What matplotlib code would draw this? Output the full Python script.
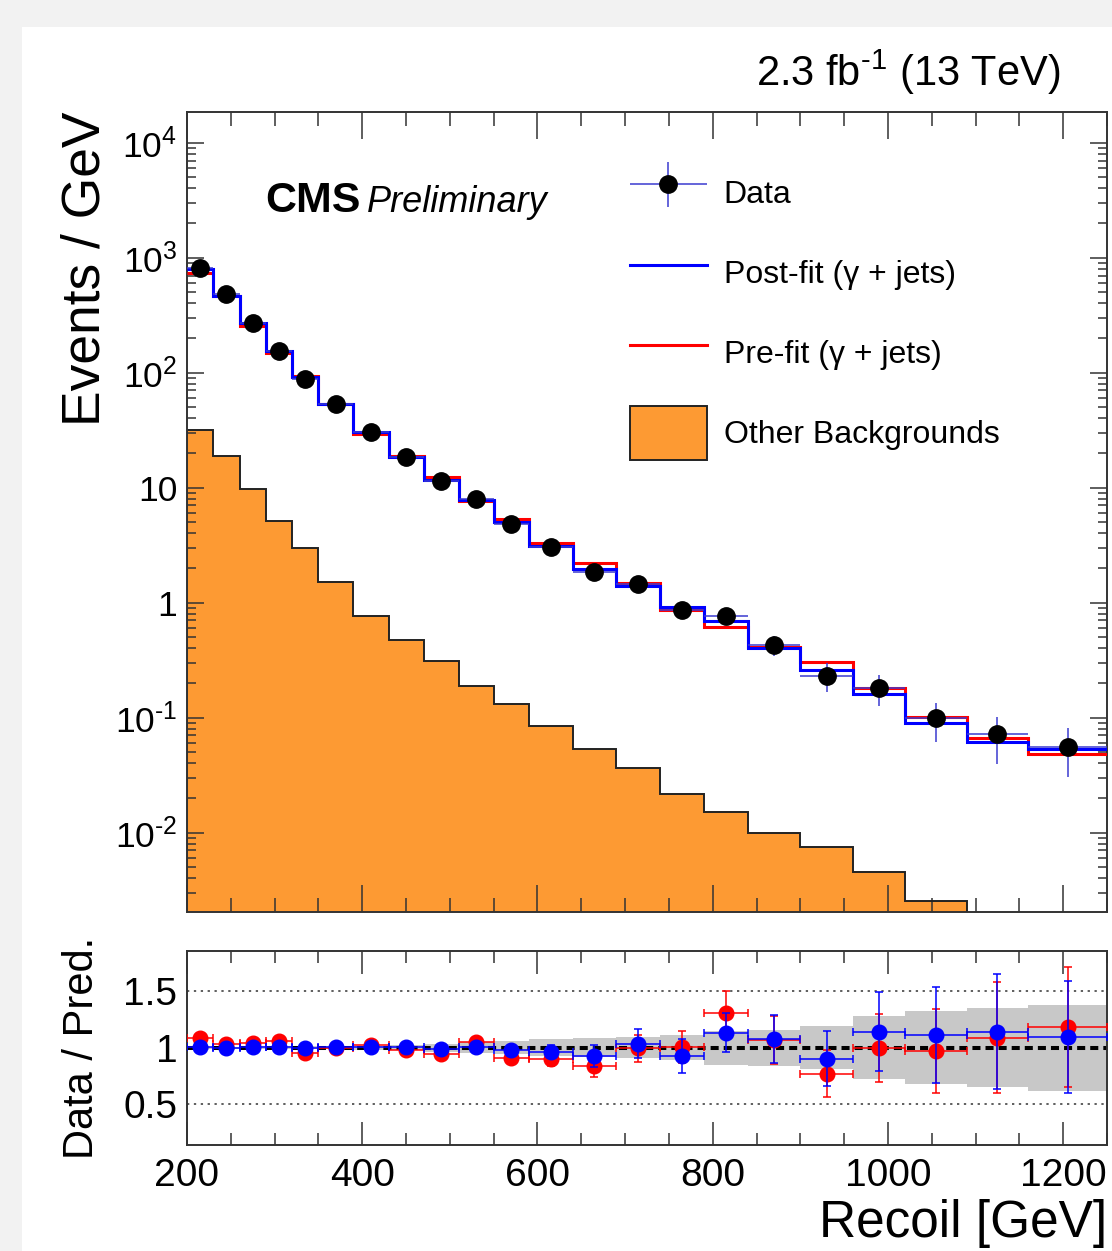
import numpy as np
import matplotlib
matplotlib.use("Agg")
import matplotlib.pyplot as plt
from matplotlib.patches import Patch, Rectangle
from matplotlib.lines import Line2D
from matplotlib.ticker import MultipleLocator, LogLocator, FuncFormatter, NullFormatter
from matplotlib.legend_handler import HandlerErrorbar

plt.rcParams["font.family"] = ["Liberation Sans", "DejaVu Sans"]
plt.rcParams["mathtext.fontset"] = "custom"
plt.rcParams["mathtext.rm"] = "Liberation Sans"
plt.rcParams["mathtext.it"] = "Liberation Sans:italic"
plt.rcParams["mathtext.bf"] = "Liberation Sans:bold"

# recoil bins [GeV]
edges = np.array([200, 230, 260, 290, 320, 350, 390, 430, 470, 510, 550, 590,
                  640, 690, 740, 790, 840, 900, 960, 1020, 1090, 1160, 1250])

# events / GeV
data = np.array([809, 481, 269, 155, 87.6, 53.1, 30.3, 18.4, 11.5, 7.93, 4.83, 3.07,
                 1.86, 1.45, 0.859, 0.77, 0.428, 0.232, 0.182, 0.0988, 0.0718, 0.055])
data_dn = np.array([5, 4, 3, 2.2, 1.4, 0.9, 0.6, 0.4, 0.3, 0.22, 0.16, 0.11,
                    0.14, 0.17, 0.13, 0.10, 0.085, 0.064, 0.056, 0.037, 0.0325, 0.0247])
data_up = np.array([5, 4, 3, 2.2, 1.4, 0.9, 0.6, 0.4, 0.3, 0.22, 0.16, 0.11,
                    0.14, 0.17, 0.13, 0.10, 0.085, 0.065, 0.053, 0.036, 0.030, 0.026])
postfit = np.array([793, 464, 269, 155, 91, 53.1, 30.3, 18.4, 11.7, 7.82, 5.06, 3.13,
                    1.95, 1.40, 0.912, 0.697, 0.401, 0.26, 0.161, 0.0905, 0.0618, 0.0531])
prefit = np.array([741, 462, 255, 147, 93, 53, 29.5, 18.8, 12.3, 7.6, 5.31, 3.32,
                   2.2, 1.47, 0.864, 0.611, 0.41, 0.303, 0.181, 0.1007, 0.0662, 0.0483])
other_bkg = np.array([31.8, 18.9, 9.7, 5.16, 2.97, 1.51, 0.766, 0.474, 0.311, 0.190, 0.132,
                      0.0847, 0.0537, 0.0362, 0.0216, 0.0150, 0.00989, 0.00746, 0.00457,
                      0.00255, 0, 0])  # last two bins empty

# ratio panel
ratio_post = np.array([1.006, 1.0, 1.006, 1.006, 0.994, 1.006, 1.009, 1.006, 0.985, 1.009, 0.976,
                       0.965, 0.926, 1.035, 0.926, 1.132, 1.079, 0.903, 1.141, 1.112, 1.141, 1.094])
ratio_post_err = np.array([0.01, 0.01, 0.012, 0.014, 0.017, 0.02, 0.025, 0.03, 0.035, 0.04, 0.05,
                           0.06, 0.10, 0.13, 0.15, 0.17, 0.21, 0.24, 0.35, 0.42, 0.51, 0.49])
ratio_pre = np.array([1.088, 1.03, 1.044, 1.059, 0.956, 1.0, 1.024, 0.976, 0.941, 1.053, 0.912,
                      0.897, 0.838, 0.994, 1.006, 1.309, 1.07, 0.771, 0.994, 0.971, 1.088, 1.182])
ratio_pre_err = np.array([0.01, 0.01, 0.012, 0.015, 0.017, 0.02, 0.025, 0.03, 0.035, 0.045, 0.05,
                          0.06, 0.10, 0.12, 0.14, 0.19, 0.21, 0.21, 0.30, 0.37, 0.49, 0.53])
band = np.array([0.01, 0.01, 0.012, 0.012, 0.015, 0.015, 0.018, 0.02, 0.035, 0.05, 0.06,
                 0.078, 0.085, 0.09, 0.11, 0.15, 0.16, 0.19, 0.28, 0.32, 0.35, 0.38])

centers = 0.5 * (edges[1:] + edges[:-1])
halfw = 0.5 * np.diff(edges)

W, H = 1112, 1251
fig = plt.figure(figsize=(W / 100, H / 100), dpi=100, facecolor="#f2f2f2")
fig.add_artist(Rectangle((22 / W, 0), 1, 1 - 27 / H, transform=fig.transFigure,
                         facecolor="white", edgecolor="none", zorder=-10))

spine_col = "#333333"
hy = "\u2010"  # short hyphen for exponents, ROOT style

# ---- top panel
ax1 = fig.add_axes([187 / W, 1 - 912 / H, 920 / W, 800 / H])
ax1.set_yscale("log")
ax1.set_xlim(200, 1250)
ax1.set_ylim(2.04e-3, 1.85e4)

nz = other_bkg > 0
e_o = edges[:nz.sum() + 1]
ax1.stairs(other_bkg[nz], e_o, baseline=1e-6, fill=True, color="#fd9a33", zorder=1)
ax1.stairs(other_bkg[nz], e_o, baseline=1e-6, color="#222222", lw=1.4, zorder=2)
ax1.stairs(prefit, edges, baseline=None, color="red", lw=2.2, zorder=3)
ax1.stairs(postfit, edges, baseline=None, color="blue", lw=2.2, zorder=4)
hdata = ax1.errorbar(centers, data, xerr=halfw, yerr=[data_dn, data_up], fmt="o", color="black",
                     ms=12.5, ecolor="#3a3ad0", elinewidth=1.1, capsize=0, zorder=5)

ax1.xaxis.set_major_locator(MultipleLocator(200))
ax1.xaxis.set_minor_locator(MultipleLocator(50))
ax1.yaxis.set_major_locator(LogLocator(base=10, numticks=20))
ax1.yaxis.set_minor_locator(LogLocator(base=10, subs=np.arange(2, 10), numticks=20))
ax1.yaxis.set_minor_formatter(NullFormatter())


def log_label(v, pos):
    e = int(round(np.log10(v)))
    if e == 0:
        return "1"
    if e == 1:
        return "10"
    if e < 0:
        return r"$10^{%s%d}$" % (hy, -e)
    return r"$10^{%d}$" % e


ax1.yaxis.set_major_formatter(FuncFormatter(log_label))
ax1.tick_params(which="both", direction="in", top=True, right=True, labelbottom=False,
                color=spine_col, width=1.1)
ax1.tick_params(axis="x", which="major", length=19.4)
ax1.tick_params(axis="x", which="minor", length=10)
ax1.tick_params(axis="y", which="major", length=12, labelsize=25.5, pad=7)
ax1.tick_params(axis="y", which="minor", length=6.5)
for s in ax1.spines.values():
    s.set_color(spine_col)
    s.set_linewidth(1.4)

ax1.set_ylabel("Events / GeV", fontsize=38.4, loc="top")
ax1.yaxis.set_label_coords(-0.083, 1.0)

ax1.text(0.0848, 0.8754, "CMS", fontsize=31, fontweight="bold", va="baseline",
         transform=ax1.transAxes)
ax1.text(0.1954, 0.8754, "Preliminary", fontsize=26, style="italic", va="baseline",
         transform=ax1.transAxes)

handles = [hdata,
           Line2D([], [], color="blue", lw=2.2),
           Line2D([], [], color="red", lw=2.2),
           Patch(facecolor="#fd9a33", edgecolor="#222222", lw=1.4)]
labels = ["Data", "Post-fit (\u03b3 + jets)", "Pre-fit (\u03b3 + jets)", "Other Backgrounds"]
ax1.legend(handles, labels, loc="upper left", bbox_to_anchor=(0.4815, 0.9325), frameon=False,
           fontsize=23, handlelength=2.4, handleheight=2.22, labelspacing=0.82,
           handletextpad=0.53, borderpad=0, borderaxespad=0,
           handler_map={type(hdata): HandlerErrorbar(xerr_size=1.2, yerr_size=0.7)})

fig.text(1060 / W, 1 - 72 / H, r"2.3 fb$^{%s1}$ (13 TeV)" % hy, ha="right", va="center",
         fontsize=30)

# ---- ratio panel
ax2 = fig.add_axes([187 / W, 1 - 1145 / H, 920 / W, 194 / H])
ax2.set_xlim(200, 1250)
ax2.set_ylim(0.141, 1.853)
ax2.stairs(1 + band, edges, baseline=1 - band, fill=True, color="#c8c8c8", zorder=1)
for yv in (0.5, 1.5):
    ax2.axhline(yv, color="#333333", lw=1.1, ls=(0, (1.5, 3)), zorder=1.5)
ax2.axhline(1, color="black", lw=2.9, ls=(0, (2, 1.25)), zorder=2)
ax2.errorbar(centers, ratio_pre, xerr=halfw, yerr=ratio_pre_err, fmt="o", color="red", ms=10.5,
             elinewidth=1.1, capsize=3, capthick=1.1, zorder=3)
ax2.errorbar(centers, ratio_post, xerr=halfw, yerr=ratio_post_err, fmt="o", color="blue", ms=10.5,
             elinewidth=1.1, capsize=3, capthick=1.1, zorder=4)

ax2.xaxis.set_major_locator(MultipleLocator(200))
ax2.xaxis.set_minor_locator(MultipleLocator(50))
ax2.set_yticks([0.5, 1, 1.5], ["0.5", "1", "1.5"])
ax2.tick_params(which="both", direction="in", top=True, right=False, color=spine_col, width=1.1)
ax2.tick_params(axis="x", which="major", length=16.5, labelsize=28, pad=9)
ax2.tick_params(axis="x", which="minor", length=8.6)
ax2.tick_params(axis="y", length=0, labelsize=28, pad=7)
for s in ax2.spines.values():
    s.set_color(spine_col)
    s.set_linewidth(1.4)

ax2.set_xlabel("Recoil [GeV]", fontsize=37, loc="right", labelpad=3.6)
ax2.set_ylabel("Data / Pred.", fontsize=30)
ax2.yaxis.set_label_coords(-0.092, 0.5)

fig.savefig("out.png", dpi=100, facecolor=fig.get_facecolor())
